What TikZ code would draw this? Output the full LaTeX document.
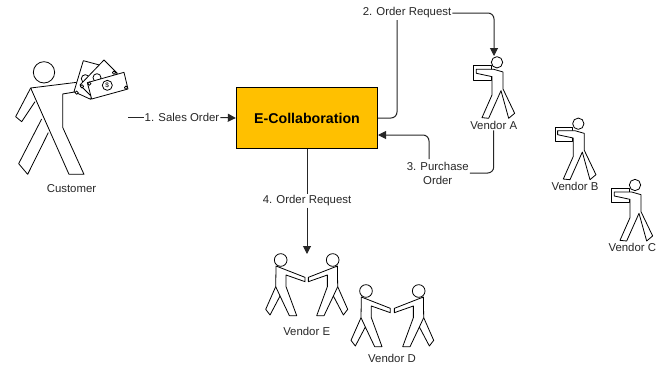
\documentclass[tikz,border=0pt]{standalone}
\usepackage{fontspec}
\setmainfont{Liberation Sans}
\usetikzlibrary{arrows.meta}
\tikzset{
	figline/.style={draw=black,fill=white,line width=0.8pt,line join=round},
	link/.style={draw=black!85,line width=1pt,rounded corners=6pt},
	lbl/.style={font=\fontsize{11.4}{14}\selectfont,text=black!85,inner sep=1pt,align=center},
	vendorman/.pic={
		\draw[figline,scale=0.3333] (-70,10) rectangle (-18,53);
		\draw[figline,scale=0.3333] (18,29)--(18,80)--(53,153)--(35,168)--(12,85)--(-25,168)--(-45,166)--(-15,98)--(-15,43)--(-62,33)--(-62,21)--(-10,21)--cycle;
		\draw[figline,scale=0.3333] (0,0) circle (17);
	},
	shakeman/.pic={
		\draw[figline,scale=0.3333] (-14,18)--(73,52)--(73,65)--(16,45)--(16,80)--(48,167)--(26,167)--(-2,108)--(-32,165)--(-45,148)--(-15,80)--cycle;
		\draw[figline,scale=0.3333] (-15,80)--(-2,108);
		\draw[figline,scale=0.3333] (0,0) circle (19);
	}
}
\begin{document}
\begin{tikzpicture}[x=1pt,y=-1pt,>={Triangle[length=8pt,width=8pt]}]
		\useasboundingbox (0,0) rectangle (664,365);
		% customer with the bills
		\begin{scope}[shift={(0,40)},scale=0.3333]
		\draw[figline,fill=none] (92,144)--(47,230)--(65,245)--(105,185);
		\draw[figline,fill=none] (125,237)--(56,371)--(83,403)--(145,278);
		\draw[figline,fill=none] (230,127)--(92,144)--(207,403)--(252,403)--(188,262)--(188,162)--(230,155);
		\draw[figline] (132,97) circle (32);
		\draw[figline] (250,62)--(302,76)--(272,178)--(222,155)--cycle;
		\draw[figline] (256,116) circle (12);
		\draw[figline] (230,158) circle (5);
		\draw[figline] (240,135)--(312,60)--(352,100)--(280,175)--cycle;
		\draw[figline] (291,113) circle (12);
		\draw[figline] (342,98) circle (5);
		\draw[figline] (246,139) circle (5);
		\draw[figline] (262,128)--(372,97)--(384,147)--(275,177)--cycle;
		\draw[figline] (322,136) circle (15);
		\draw[figline] (268,131) circle (5);
		\draw[figline] (378,143) circle (5);
		\end{scope}
		\node[inner sep=0pt,font=\fontsize{6.5}{7}\selectfont] (billsign) at (107.3,85.3){\$};
		\node[lbl] (customerlabel) at (71.5,189){Customer};
		% main box
		\node[draw=black,line width=0.8pt,fill={rgb,255:red,255;green,192;blue,0},minimum width=141.5pt,minimum height=61pt,inner sep=0pt,font=\fontsize{14.2}{16}\selectfont\bfseries] (collab) at (307,118){E-Collaboration};
		% vendors
		\pic at (497,62.3) {vendorman};
		\pic at (578.3,123.7) {vendorman};
		\pic at (635,185) {vendorman};
		\pic at (280.7,260) {shakeman};
		\pic[xscale=-1] at (332.7,260) {shakeman};
		\pic at (366,291) {shakeman};
		\pic[xscale=-1] at (418.7,291) {shakeman};
		\node[lbl] (vendorA) at (493.7,125){Vendor A};
		\node[lbl] (vendorB) at (575,186){Vendor B};
		\node[lbl] (vendorC) at (632.3,247){Vendor C};
		\node[lbl] (vendorE) at (306.7,331){Vendor E};
		\node[lbl,inner sep=0pt] (vendorD) at (392,358.5){Vendor D};
		% connector labels and free ends
		\node[lbl] (salesorder) at (182,117.5){1. Sales Order};
		\node[lbl] (ordertwo) at (407,13){2. Order Request};
		\node[lbl] (orderthree) at (437.7,173){3. Purchase\\Order};
		\node[lbl] (orderfour) at (307,201){4. Order Request};
		\coordinate (customerout) at (128,117.5);
		\coordinate (bendtwo) at (397,20);
		\coordinate (bendthree) at (429,159);
		\coordinate (vendorAtop) at (494,56);
		\coordinate (collabin) at (378,135);
		\coordinate (vendorEtop) at (307,254);
		% connectors
		\draw[link] (customerout)--(salesorder.west);
		\draw[link,->] (salesorder.east)--(collab.west);
		\draw[link] (collab.east) -| (bendtwo);
		\draw[link,->] (ordertwo.east) -| (vendorAtop);
		\draw[link] (vendorA.south) |- (orderthree.east);
		\draw[link,->] (bendthree) |- (collabin);
		\draw[link] (collab.south)--(orderfour.north);
		\draw[link,->] (orderfour.south)--(vendorEtop);
		\end{tikzpicture}
\end{document}
